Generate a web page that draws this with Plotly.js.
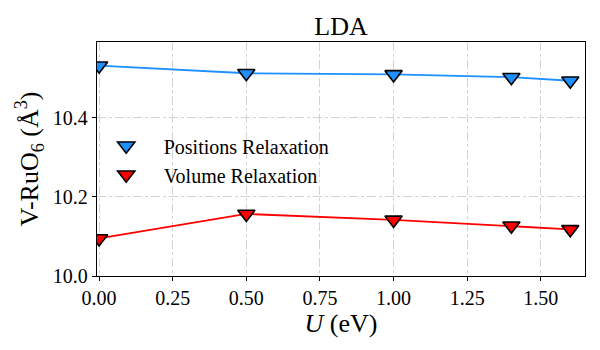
<!DOCTYPE html>
<html>
<head>
<meta charset="utf-8">
<script src="https://cdn.plot.ly/plotly-3.0.1.min.js"></script>
<style>body{margin:0;padding:0;background:#fff}#chart{width:600px;height:350px}</style>
</head>
<body>
<div id="chart"></div>
<script>
const uValues = [0.0, 0.5, 1.0, 1.4, 1.6];
const positionsRelaxation = [10.532, 10.513, 10.510, 10.503, 10.494];
const volumeRelaxation = [10.095, 10.157, 10.142, 10.127, 10.118];
const seriesNames = ["Positions Relaxation", "Volume Relaxation"];
const seriesColors = ["#1E90FF", "#FF0000"];
const xTicks = [0.0, 0.25, 0.5, 0.75, 1.0, 1.25, 1.5];
const yTicks = [10.0, 10.2, 10.4];

const font = "Liberation Serif";
const seriesData = [positionsRelaxation, volumeRelaxation];
const traces = [];
seriesData.forEach((ys, i) => {
  traces.push({
    x: uValues, y: ys, type: "scatter", mode: "lines",
    line: {color: seriesColors[i], width: 1.8},
    showlegend: false, hoverinfo: "skip"
  });
});
seriesData.forEach((ys, i) => {
  traces.push({
    x: uValues, y: ys, type: "scatter", mode: "markers",
    name: seriesNames[i],
    marker: {symbol: "triangle-down", size: 15, color: seriesColors[i],
             line: {color: "#000", width: 1.6}}
  });
});

const layout = {
  width: 600, height: 350,
  margin: {l: 97, r: 15, t: 42, b: 74},
  paper_bgcolor: "#fff", plot_bgcolor: "#fff",
  font: {family: font, color: "#000", size: 20},
  title: {text: "LDA", font: {family: font, size: 26, color: "#000"},
          x: 0.5, xref: "paper", xanchor: "center",
          y: 1, yref: "paper", yanchor: "bottom", pad: {b: 7}},
  xaxis: {
    range: [-0.007, 1.65], tickvals: xTicks, tickformat: ".2f",
    ticks: "outside", ticklen: 4, tickcolor: "#000",
    showline: true, linecolor: "#000", linewidth: 1.2, mirror: true,
    showgrid: true, gridcolor: "#c8c8c8", griddash: "dashdot", gridwidth: 0.8,
    zeroline: false,
    tickfont: {family: font, size: 20, color: "#000"},
    title: {text: "<i>U</i> (eV)", font: {family: font, size: 26, color: "#000"}, standoff: 0}
  },
  yaxis: {
    range: [10.0, 10.592], tickvals: yTicks, tickformat: ".1f",
    ticks: "outside", ticklen: 4, tickcolor: "#000",
    showline: true, linecolor: "#000", linewidth: 1.2, mirror: true,
    showgrid: true, gridcolor: "#c8c8c8", griddash: "dashdot", gridwidth: 0.8,
    zeroline: false,
    tickfont: {family: font, size: 20, color: "#000"},
    title: {text: "V-RuO<sub>6</sub> (Å<sup>3</sup>)", font: {family: font, size: 26, color: "#000"}, standoff: 6}
  },
  legend: {
    x: -0.017, y: 0.64, xanchor: "left", yanchor: "top",
    bgcolor: "rgba(255,255,255,0)", borderwidth: 0,
    font: {family: font, size: 20, color: "#000"},
    itemwidth: 65
  },
  showlegend: true
};

Plotly.newPlot("chart", traces, layout, {displayModeBar: false, staticPlot: true});
</script>
</body>
</html>
